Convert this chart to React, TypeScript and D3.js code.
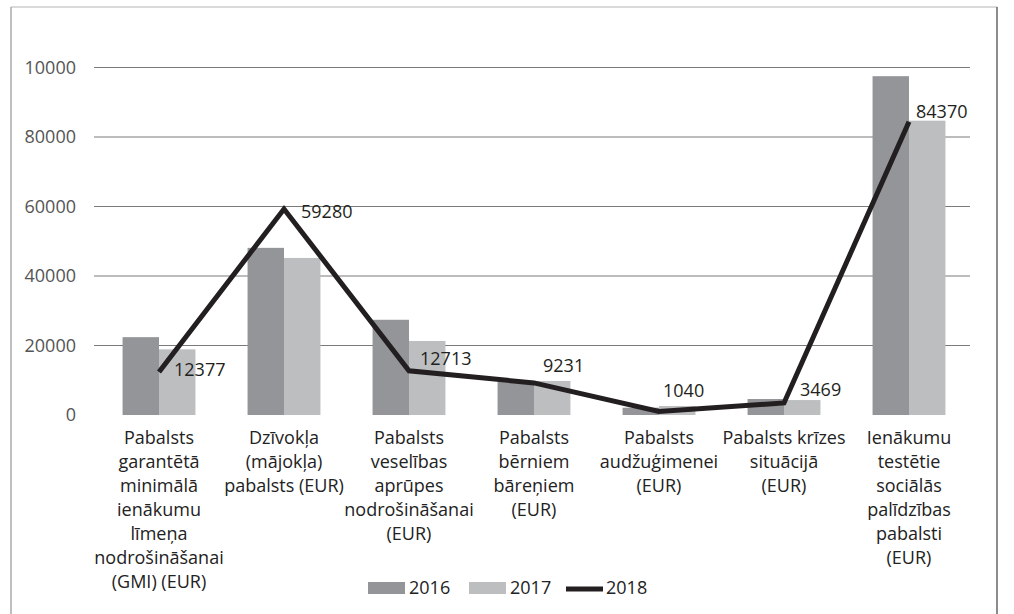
import * as d3 from 'd3';

const width = 1014;
const height = 614;

// category labels, already broken into lines like the original
const categories = [
  ['Pabalsts', 'garantētā', 'minimālā', 'ienākumu', 'līmeņa', 'nodrošināšanai', '(GMI) (EUR)'],
  ['Dzīvokļa', '(mājokļa)', 'pabalsts (EUR)'],
  ['Pabalsts', 'veselības', 'aprūpes', 'nodrošināšanai', '(EUR)'],
  ['Pabalsts', 'bērniem', 'bāreņiem', '(EUR)'],
  ['Pabalsts', 'audžuģimenei', '(EUR)'],
  ['Pabalsts krīzes', 'situācijā', '(EUR)'],
  ['Ienākumu', 'testētie', 'sociālās', 'palīdzības', 'pabalsti', '(EUR)'],
];

const values2016 = [22400, 48100, 27400, 9700, 2100, 4600, 97500];
const values2017 = [18900, 45200, 21300, 9800, 2600, 4300, 84700];
const values2018 = [12377, 59280, 12713, 9231, 1040, 3469, 84370];

const tickValues = [0, 20000, 40000, 60000, 80000, 100000];
const tickLabels = ['0', '20000', '40000', '60000', '80000', '10000'];

const seriesNames = ['2016', '2017', '2018'];

// label nudges for the 2018 values (dx, dy from the point)
const labelDx = [15, 17, 11, 9, 4, 16, 7];
const labelDy = [-2, 3, -12, -17, -21, -13, -10];

const colors = { s2016: '#939598', s2017: '#bcbec0', s2018: '#231f20' };
const font = "'Open Sans', sans-serif";

const gridLeft = 94;
const gridRight = 970;
const y0 = 415;
const yTop = 67.5;

export default function App() {
  const idx = categories.map((_, i) => i);

  const x = d3
    .scaleBand<number>()
    .domain(idx)
    .range([96.5, 971.5])
    .paddingInner(0.417)
    .paddingOuter(0.2085);

  const y = d3.scaleLinear().domain([0, 100000]).range([y0, yTop]);

  const bw = x.bandwidth() / 2;
  const cx = (i: number) => (x(i) as number) + bw;

  const line = d3
    .line<number>()
    .x((_, i) => cx(i))
    .y((d) => y(d));

  return (
    <svg
      width={width}
      height={height}
      style={{ position: 'absolute', left: 0, top: 0, display: 'block', background: '#fff' }}
    >
      {/* frame */}
      <line x1={11} y1={7} x2={997} y2={7} stroke="#b5b5b5" strokeWidth={1} />
      <line x1={11} y1={7} x2={11} y2={614} stroke="#a8a8a8" strokeWidth={1.5} />
      <line x1={997} y1={7} x2={997} y2={614} stroke="#666" strokeWidth={1.5} />

      {/* gridlines and tick labels */}
      {tickValues.map((t, i) => (
        <g key={t}>
          {t > 0 && (
            <line x1={gridLeft} x2={gridRight} y1={y(t)} y2={y(t)} stroke="#7a7a7a" strokeWidth={1} />
          )}
          <text
            x={76}
            y={y(t)}
            dy="0.35em"
            textAnchor="end"
            fontFamily={font}
            fontSize={18}
            fill="#555"
          >
            {tickLabels[i]}
          </text>
        </g>
      ))}

      {/* bars */}
      {idx.map((i) => (
        <g key={'b' + i}>
          <rect x={x(i)} y={y(values2016[i])} width={bw} height={y0 - y(values2016[i])} fill={colors.s2016} />
          <rect x={(x(i) as number) + bw} y={y(values2017[i])} width={bw} height={y0 - y(values2017[i])} fill={colors.s2017} />
        </g>
      ))}

      {/* 2018 line */}
      <path
        d={line(values2018) || ''}
        fill="none"
        stroke={colors.s2018}
        strokeWidth={5}
        strokeLinejoin="miter"
      />
      {values2018.map((v, i) => (
        <text
          key={'l' + i}
          x={cx(i) + labelDx[i]}
          y={y(v) + labelDy[i]}
          dy="0.35em"
          fontFamily={font}
          fontSize={18}
          fill="#231f20"
        >
          {v}
        </text>
      ))}

      {/* category labels */}
      {categories.map((lines, i) => (
        <text key={'c' + i} textAnchor="middle" fontFamily={font} fontSize={18} fill="#222">
          {lines.map((ln, j) => (
            <tspan key={j} x={cx(i)} y={438 + j * 24} dy="0.35em">
              {ln}
            </tspan>
          ))}
        </text>
      ))}

      {/* legend */}
      <g fontFamily={font} fontSize={18} fill="#222">
        <rect x={368} y={582} width={37} height={12} fill={colors.s2016} />
        <text x={409} y={588} dy="0.35em">{seriesNames[0]}</text>
        <rect x={469} y={582} width={37} height={12} fill={colors.s2017} />
        <text x={510} y={588} dy="0.35em">{seriesNames[1]}</text>
        <line x1={566} x2={603} y1={589} y2={589} stroke={colors.s2018} strokeWidth={5} />
        <text x={606} y={588} dy="0.35em">{seriesNames[2]}</text>
      </g>
    </svg>
  );
}
